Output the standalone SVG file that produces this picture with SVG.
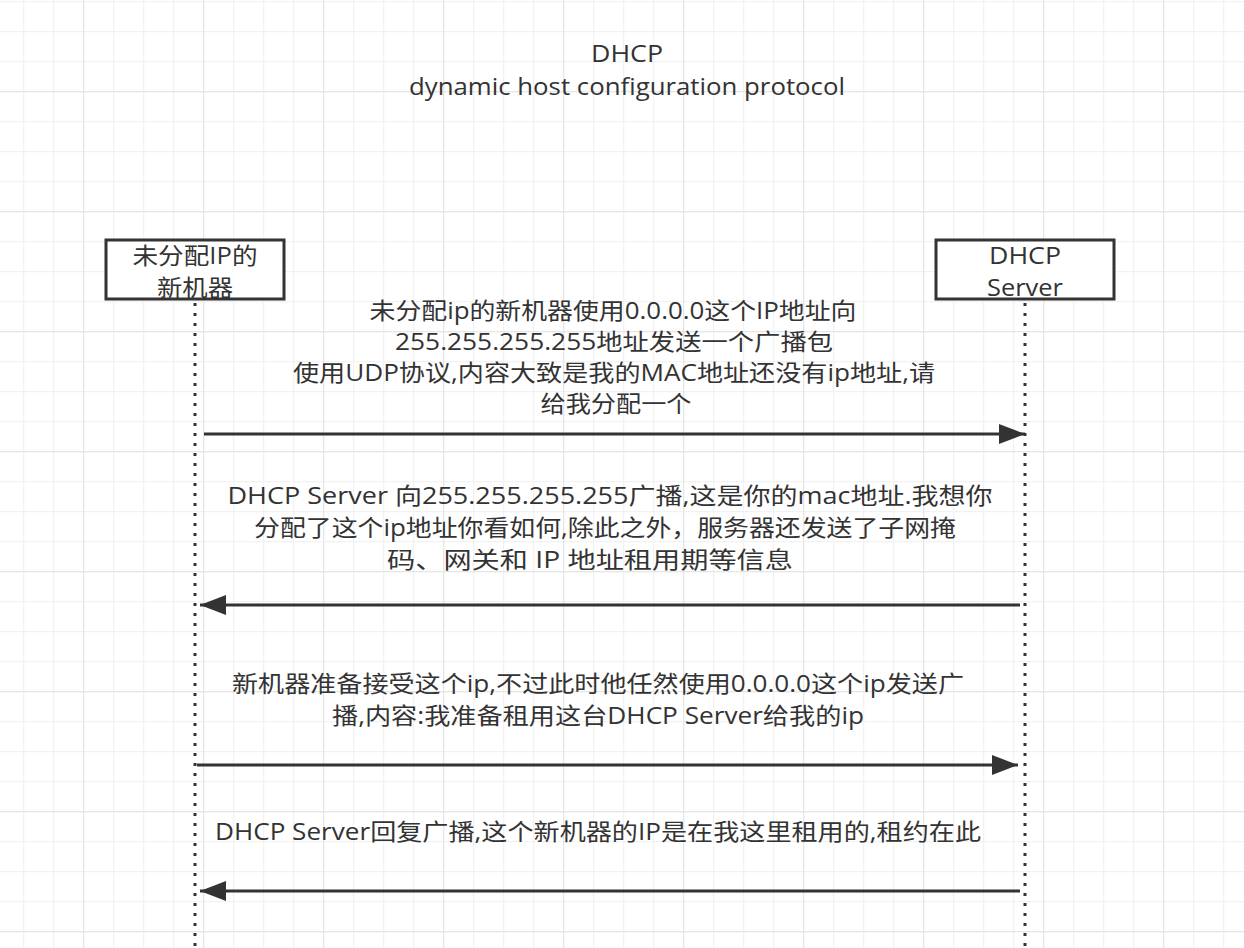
<svg xmlns="http://www.w3.org/2000/svg" width="1244" height="948" viewBox="0 0 1244 948">
<style>
.t{font-family:"Open Sans","Noto Sans CJK SC",sans-serif;font-size:23px;fill:#333;text-anchor:middle}
.box{fill:#fff;stroke:#333;stroke-width:3}
.life{stroke:#333;stroke-width:3;stroke-dasharray:3 7;fill:none}
.msg{stroke:#333;stroke-width:3;fill:none}
</style>
<defs>
<pattern id="minor" patternUnits="userSpaceOnUse" x="23" y="1" width="30" height="30">
<path d="M0.5 0V30M0 0.5H30" stroke="#f2f2f2" stroke-width="1.5" fill="none"/>
</pattern>
<pattern id="major" patternUnits="userSpaceOnUse" x="83" y="91" width="120" height="120">
<path d="M0.5 0V120M0 0.5H120" stroke="#e6e6e6" stroke-width="1.5" fill="none"/>
</pattern>
<marker id="ah" markerUnits="userSpaceOnUse" markerWidth="28" markerHeight="20" refX="26" refY="10" orient="auto">
<path d="M0 0L26 10L0 20Z" fill="#333"/>
</marker>
</defs>
<rect width="1244" height="948" fill="#fff"/>
<rect width="1244" height="948" fill="url(#minor)"/>
<rect width="1244" height="948" fill="url(#major)"/>
<g id="title">
<text class="t" x="627" y="62" textLength="72" lengthAdjust="spacingAndGlyphs">DHCP</text>
<text class="t" x="627" y="95" textLength="436" lengthAdjust="spacingAndGlyphs">dynamic host configuration protocol</text>
</g>
<g id="lifelines">
<line class="life" x1="195" y1="303" x2="195" y2="948"/>
<line class="life" x1="1025" y1="303" x2="1025" y2="948"/>
</g>
<g id="client">
<rect class="box" x="106" y="240" width="178" height="59"/>
<text class="t" x="195" y="264" textLength="125" lengthAdjust="spacingAndGlyphs">未分配IP的</text>
<text class="t" x="195" y="296" textLength="76" lengthAdjust="spacingAndGlyphs">新机器</text>
</g>
<g id="server">
<rect class="box" x="936" y="240" width="178" height="59"/>
<text class="t" x="1025" y="264" textLength="72" lengthAdjust="spacingAndGlyphs">DHCP</text>
<text class="t" x="1025" y="296" textLength="76" lengthAdjust="spacingAndGlyphs">Server</text>
</g>
<g id="connectors">
<line class="msg" x1="204" y1="434" x2="1025" y2="434" marker-end="url(#ah)"/>
<line class="msg" x1="1020" y1="605" x2="200" y2="605" marker-end="url(#ah)"/>
<line class="msg" x1="197" y1="765" x2="1018" y2="765" marker-end="url(#ah)"/>
<line class="msg" x1="1020" y1="891" x2="200" y2="891" marker-end="url(#ah)"/>
</g>
<g id="labels">
<text class="t" x="613" y="319" textLength="487" lengthAdjust="spacingAndGlyphs">未分配ip的新机器使用0.0.0.0这个IP地址向</text>
<text class="t" x="614" y="350" textLength="438" lengthAdjust="spacingAndGlyphs">255.255.255.255地址发送一个广播包</text>
<text class="t" x="614" y="381" textLength="642" lengthAdjust="spacingAndGlyphs">使用UDP协议,内容大致是我的MAC地址还没有ip地址,请</text>
<text class="t" x="616" y="412" textLength="151" lengthAdjust="spacingAndGlyphs">给我分配一个</text>
<text class="t" x="610" y="504" textLength="765" lengthAdjust="spacingAndGlyphs">DHCP Server 向255.255.255.255广播,这是你的mac地址.我想你</text>
<text class="t" x="605" y="536" textLength="702" lengthAdjust="spacingAndGlyphs">分配了这个ip地址你看如何,除此之外，服务器还发送了子网掩</text>
<text class="t" x="590" y="568" textLength="406" lengthAdjust="spacingAndGlyphs">码、网关和 IP 地址租用期等信息</text>
<text class="t" x="598" y="692" textLength="732" lengthAdjust="spacingAndGlyphs">新机器准备接受这个ip,不过此时他任然使用0.0.0.0这个ip发送广</text>
<text class="t" x="598" y="724" textLength="532" lengthAdjust="spacingAndGlyphs">播,内容:我准备租用这台DHCP Server给我的ip</text>
<text class="t" x="598" y="840" textLength="766" lengthAdjust="spacingAndGlyphs">DHCP Server回复广播,这个新机器的IP是在我这里租用的,租约在此</text>
</g>
</svg>
